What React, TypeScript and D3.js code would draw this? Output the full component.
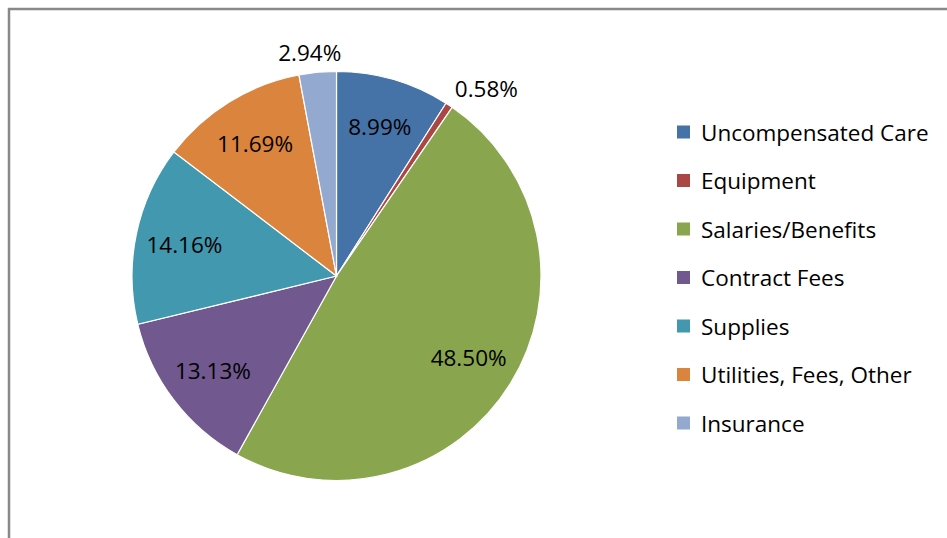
import React from 'react';
import * as d3 from 'd3';

const categories = [
  'Uncompensated Care',
  'Equipment',
  'Salaries/Benefits',
  'Contract Fees',
  'Supplies',
  'Utilities, Fees, Other',
  'Insurance',
];
const values = [8.99, 0.58, 48.5, 13.13, 14.16, 11.69, 2.94];
const colors = ['#4572A7', '#AA4643', '#89A54E', '#71588F', '#4198AF', '#DB843D', '#93A9CF'];

const W = 947;
const H = 538;
const cx = 336.5;
const cy = 276;
const R = 204.5;
const FONT = "'Open Sans', 'Noto Sans', sans-serif";

export default function App() {
  const pie = d3.pie<number>().sort(null).value(d => d)(values);
  const arc = d3.arc<d3.PieArcDatum<number>>().innerRadius(0).outerRadius(R);
  const labelArc = d3.arc<d3.PieArcDatum<number>>().innerRadius(R * 0.76).outerRadius(R * 0.76);
  const outArc = d3.arc<d3.PieArcDatum<number>>().innerRadius(R * 1.1).outerRadius(R * 1.1);

  const legendY = d3.scalePoint<string>().domain(categories).range([132, 423]);

  return (
    <svg width={W} height={H} style={{ position: 'absolute', left: 0, top: 0, fontFamily: FONT }}>
      <rect x={0} y={0} width={W} height={H} fill="#fff" />
      <rect x={9} y={9} width={W + 20} height={H + 20} fill="none" stroke="#888" strokeWidth={2.5} />
      <g transform={`translate(${cx},${cy})`}>
        {pie.map((d, i) => (
          <path key={i} d={arc(d) || ''} fill={colors[i]} stroke="#fff" strokeWidth={1.2} />
        ))}
        {pie.map((d, i) => {
          const small = d.data < 5;
          const [x, y] = small ? outArc.centroid(d) : labelArc.centroid(d);
          return (
            <text
              key={i}
              x={x + (small ? (i === 1 ? 26 : -6) : 0)}
              y={y + (small ? 0 : 0)}
              textAnchor="middle"
              dominantBaseline="central"
              fontSize={22.5}
              fill="#000"
            >
              {d.data.toFixed(2)}%
            </text>
          );
        })}
      </g>
      <g>
        {categories.map((c, i) => (
          <g key={c} transform={`translate(677,${legendY(c)})`}>
            <rect x={0} y={-6.5} width={13} height={13} fill={colors[i]} />
            <text x={24} y={0} dominantBaseline="central" fontSize={22.5} fill="#000">
              {c}
            </text>
          </g>
        ))}
      </g>
    </svg>
  );
}
